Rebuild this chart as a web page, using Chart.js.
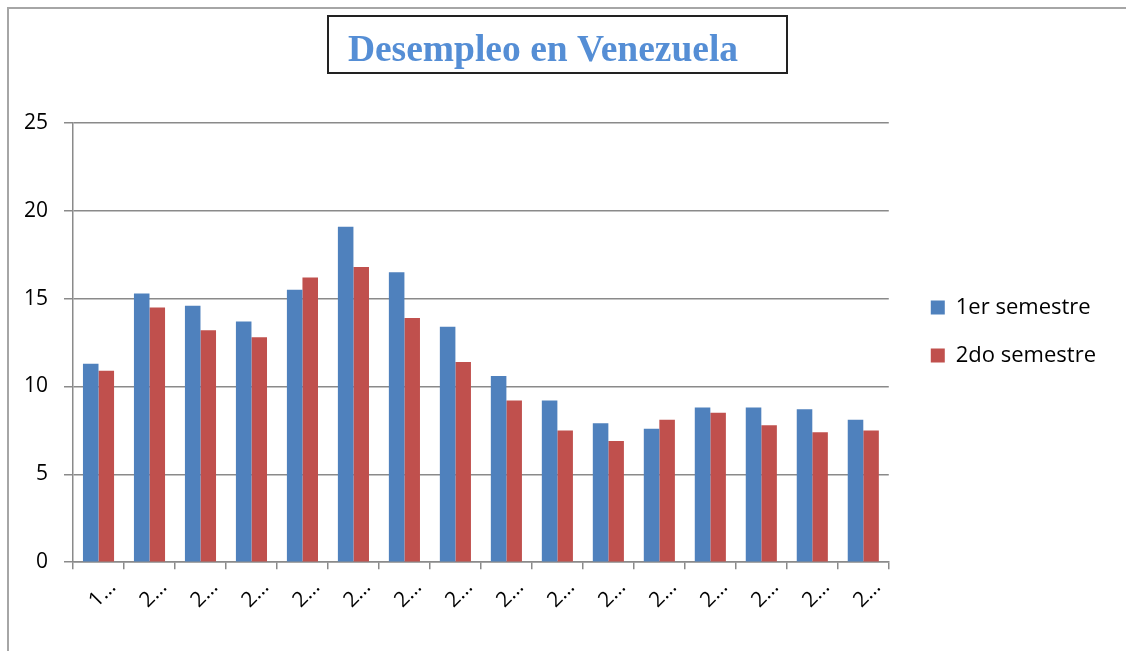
<!DOCTYPE html>
<html>
<head>
<meta charset="utf-8">
<script src="https://cdn.jsdelivr.net/npm/chart.js@4/dist/chart.umd.min.js"></script>
<style>
html,body{margin:0;padding:0;background:#fff;}
#wrap{position:relative;width:1126px;height:651px;}
canvas{position:absolute;left:0;top:0;}
</style>
</head>
<body>
<div id="wrap"><canvas id="c" width="1126" height="651"></canvas></div>
<script>
const categories = ["1…","2…","2…","2…","2…","2…","2…","2…","2…","2…","2…","2…","2…","2…","2…","2…"];
const seriesNames = ["1er semestre","2do semestre"];
const primerSemestre = [11.3,15.3,14.6,13.7,15.5,19.1,16.5,13.4,10.6,9.2,7.9,7.6,8.8,8.8,8.7,8.1];
const segundoSemestre = [10.9,14.5,13.2,12.8,16.2,16.8,13.9,11.4,9.2,7.5,6.9,8.1,8.5,7.8,7.4,7.5];
const yTicks = [0,5,10,15,20,25];
const titleText = "Desempleo en Venezuela";

const GRID = "#8a8a8a";

const decor = {
  id: "decor",
  afterLayout(chart) {
    const l = chart.legend;
    if (l) { l.left += 16; l.right += 16; l.top += 22; l.bottom += 22; }
    const t = chart.titleBlock;
    if (t) { t.left -= 6; t.right -= 6; }
  },
  beforeDraw(chart) {
    const ctx = chart.ctx;
    ctx.save();
    ctx.strokeStyle = "#a6a6a6";
    ctx.lineWidth = 2;
    ctx.beginPath();
    ctx.moveTo(8, 651);
    ctx.lineTo(8, 8);
    ctx.lineTo(1126, 8);
    ctx.stroke();
    ctx.restore();
  },
  afterDraw(chart) {
    const ctx = chart.ctx;
    ctx.save();
    ctx.strokeStyle = "#222";
    ctx.lineWidth = 2;
    ctx.strokeRect(328, 16, 459, 57);
    ctx.restore();
  }
};

new Chart(document.getElementById("c"), {
  type: "bar",
  data: {
    labels: categories,
    datasets: [
      { label: seriesNames[0], data: primerSemestre, backgroundColor: "#4F81BD", borderWidth: 0 },
      { label: seriesNames[1], data: segundoSemestre, backgroundColor: "#C0504D", borderWidth: 0 }
    ]
  },
  options: {
    responsive: false,
    animation: false,
    devicePixelRatio: 1,
    layout: { padding: { left: 8, right: 36, top: 0, bottom: 32 } },
    datasets: { bar: { categoryPercentage: 0.61, barPercentage: 1.0 } },
    plugins: {
      title: {
        display: true,
        text: titleText,
        color: "#558ED5",
        font: { family: "'Liberation Serif','Times New Roman',serif", size: 37.5, weight: "bold" },
        padding: { top: 29, bottom: 49 }
      },
      legend: {
        position: "right",
        labels: {
          boxWidth: 14,
          boxHeight: 14,
          padding: 26,
          color: "#000",
          font: { family: "'Open Sans',sans-serif", size: 22 }
        }
      },
      tooltip: { enabled: false }
    },
    scales: {
      x: {
        grid: { display: true, drawOnChartArea: false, drawTicks: true, tickLength: 7, color: GRID, lineWidth: 1.5 },
        border: { display: true, color: GRID, width: 1.5 },
        ticks: {
          color: "#000",
          font: { family: "'Open Sans',sans-serif", size: 21 },
          minRotation: 45, maxRotation: 45,
          autoSkip: false,
          padding: 6,
          labelOffset: 14
        }
      },
      y: {
        min: 0, max: 25,
        afterBuildTicks(axis) { axis.ticks = yTicks.map(v => ({ value: v })); },
        grid: { color: GRID, lineWidth: 1.5, drawTicks: true, tickLength: 9 },
        border: { display: true, color: GRID, width: 1.5 },
        ticks: {
          color: "#000",
          font: { family: "'Open Sans',sans-serif", size: 21 },
          padding: 16
        }
      }
    }
  },
  plugins: [decor]
});
</script>
</body>
</html>
